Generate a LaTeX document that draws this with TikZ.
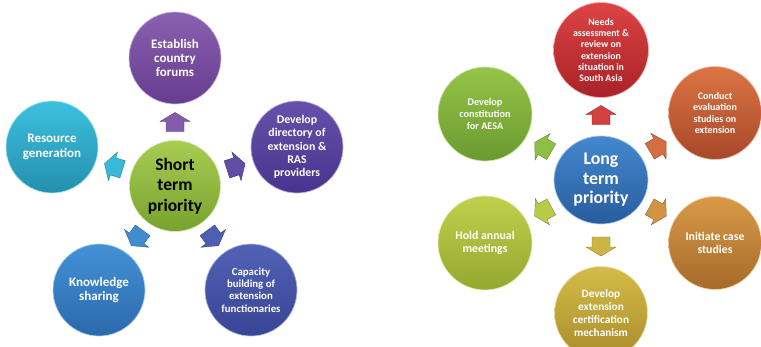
\documentclass[tikz,border=0pt]{standalone}
\usepackage{fontspec}
\setmainfont{Carlito}
\usetikzlibrary{shapes.geometric,calc}
\definecolor{gnA}{HTML}{A8CC52}\definecolor{gnB}{HTML}{78A22E}
\definecolor{puA}{HTML}{8A60B0}\definecolor{puB}{HTML}{663C8E}
\definecolor{inA}{HTML}{6650AA}\definecolor{inB}{HTML}{48348E}
\definecolor{caA}{HTML}{5262B6}\definecolor{caB}{HTML}{384494}
\definecolor{knA}{HTML}{4392D6}\definecolor{knB}{HTML}{2C68AC}
\definecolor{reA}{HTML}{3CC0DE}\definecolor{reB}{HTML}{2490AE}
\definecolor{blA}{HTML}{4488CE}\definecolor{blB}{HTML}{285C9E}
\definecolor{rdA}{HTML}{DC4444}\definecolor{rdB}{HTML}{A82228}
\definecolor{orA}{HTML}{DC7444}\definecolor{orB}{HTML}{A8482A}
\definecolor{obA}{HTML}{D89A48}\definecolor{obB}{HTML}{A66A2A}
\definecolor{yeA}{HTML}{D4BC48}\definecolor{yeB}{HTML}{A88C2A}
\definecolor{ygA}{HTML}{C0D04C}\definecolor{ygB}{HTML}{94A830}
\definecolor{lgA}{HTML}{96C448}\definecolor{lgB}{HTML}{6A9A30}
\tikzset{
  bub/.style={circle, minimum size=92pt, inner sep=0pt, align=center, text=white,
    font=\bfseries\fontsize{13}{14.3}\selectfont},
  col/.style 2 args={top color=#1, bottom color=#2, draw=#1!45!white, line width=0.7pt},
  blkfill/.style={draw=#1!70!black, line width=0.4pt, fill=#1, line join=miter},
  fs/.style 2 args={font=\bfseries\fontsize{#1}{#2}\selectfont}
}
% block arrow between the centres of two nodes, pointing from #1 to #2
\newcommand\blkarrow[3]{%
  \draw[blkfill=#3] let \p1=($(#2)-(#1)$), \n1={atan2(\y1,\x1)} in
    ($($(#1)!0.5!(#2)$)+(\n1:-9.5)+(\n1+90:9)$) --
    ($($(#1)!0.5!(#2)$)+(\n1:0.5)+(\n1+90:9)$) --
    ($($(#1)!0.5!(#2)$)+(\n1:0.5)+(\n1+90:15)$) --
    ($($(#1)!0.5!(#2)$)+(\n1:9.5)$) --
    ($($(#1)!0.5!(#2)$)+(\n1:0.5)+(\n1-90:15)$) --
    ($($(#1)!0.5!(#2)$)+(\n1:0.5)+(\n1-90:9)$) --
    ($($(#1)!0.5!(#2)$)+(\n1:-9.5)+(\n1-90:9)$) -- cycle;}
\begin{document}
\begin{tikzpicture}[x=1pt,y=1pt]
\useasboundingbox (0,0) rectangle (761,-346);
% ---------- short term ----------
\node[bub, col={gnA}{gnB}, minimum size=91pt, text=black, fs={17.5}{20.3}] (S) at (175,-186) {Short\\term\\priority};
\node[bub, col={puA}{puB}] (s1) at (175,-58) {Establish\\country\\forums};
\node[bub, col={inA}{inB}, fs={11.8}{13.3}] (s2) at (297,-147) {Develop\\directory of\\extension \&\\RAS\\providers};
\node[bub, col={caA}{caB}, fs={10.8}{12.3}] (s3) at (251,-290) {Capacity\\building of\\extension\\functionaries};
\node[bub, col={knA}{knB}] (s4) at (99,-290) {Knowledge\\sharing};
\node[bub, col={reA}{reB}] (s5) at (52,-147) {Resource\\generation};
\blkarrow{S}{s1}{puA!85!puB}
\blkarrow{S}{s2}{inA!85!inB}
\blkarrow{S}{s3}{caA!85!caB}
\blkarrow{S}{s4}{knA!85!knB}
\blkarrow{S}{s5}{reA!85!reB}
% ---------- long term ----------
\node[ellipse, col={blA}{blB}, minimum width=94pt, minimum height=88pt, inner sep=0pt, align=center, text=white, fs={17.8}{19.5}] (L) at (601,-180) {Long\\term\\priority};
\node[bub, col={rdA}{rdB}, minimum size=95pt, fs={9.8}{11.3}] (l1) at (601,-50) {Needs\\assessment \&\\review on\\extension\\situation in\\South Asia};
\node[bub, col={orA}{orB}, minimum size=93pt, fs={10}{11.5}] (l2) at (715,-113) {Conduct\\evaluation\\studies on\\extension};
\node[bub, col={obA}{obB}, minimum size=93pt, fs={11.8}{13.3}] (l3) at (715,-243) {Initiate case\\studies};
\node[bub, col={yeA}{yeB}, minimum size=93pt, fs={11.3}{12.8}] (l4) at (601,-313) {Develop\\extension\\certification\\mechanism};
\node[bub, col={ygA}{ygB}, minimum size=94pt, fs={11.8}{13.3}] (l5) at (485,-243) {Hold annual\\meetings};
\node[bub, col={lgA}{lgB}, minimum size=94pt, fs={10.2}{11.7}] (l6) at (485,-114) {Develop\\constitution\\for AESA};
\blkarrow{L}{l1}{rdA!85!rdB}
\blkarrow{L}{l2}{orA!85!orB}
\blkarrow{L}{l3}{obA!85!obB}
\blkarrow{L}{l4}{yeA!85!yeB}
\blkarrow{L}{l5}{ygA!85!ygB}
\blkarrow{L}{l6}{lgA!85!lgB}
\end{tikzpicture}
\end{document}
